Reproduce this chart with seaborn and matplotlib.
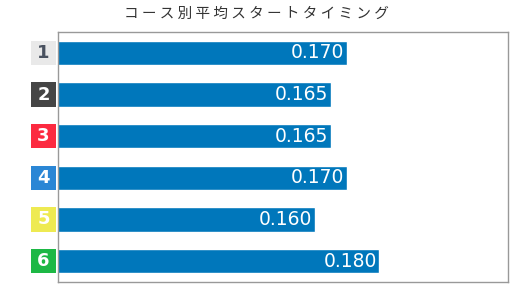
import matplotlib
matplotlib.use('Agg')

import pandas as pd
import seaborn as sns
import matplotlib.pyplot as plt
from matplotlib.patches import Rectangle
import matplotlib.transforms as mtransforms

# data
courses = ['1', '2', '3', '4', '5', '6']
start_timing = [0.170, 0.165, 0.165, 0.170, 0.160, 0.180]
lane_colors = ['#e9e9e9', '#454545', '#fc2a40', '#2a86d5', '#eeea52', '#1db845']
lane_text_colors = ['#4a5260', 'white', 'white', 'white', 'white', 'white']
title = 'コース別平均スタートタイミング'

df = pd.DataFrame({'course': courses, 'st': start_timing})

sns.set_style('white')
plt.rcParams['font.family'] = ['DejaVu Sans']

fig = plt.figure(figsize=(5.3, 2.9), dpi=100)
ax = fig.add_axes([58 / 530, 8 / 290, 450 / 530, 250 / 290])

sns.barplot(data=df, x='st', y='course', orient='h', color='#0077bb',
            saturation=1, width=0.58, ax=ax)

ax.set_xlim(0.08, 0.22)
ax.set_xticks([])
ax.set_yticks([])
ax.set_xlabel('')
ax.set_ylabel('')
for s in ax.spines.values():
    s.set_color('#999999')
    s.set_linewidth(1)

# value labels inside the bars
for i, v in enumerate(start_timing):
    ax.annotate(f'{v:.3f}', xy=(v, i), xytext=(-2, 0), textcoords='offset points',
                ha='right', va='center', color='white', fontsize=13.5)

# course number boxes on the left
trans = mtransforms.blended_transform_factory(ax.transAxes, ax.transData)
box_w = 24 / 450
for i, c in enumerate(courses):
    ax.add_patch(Rectangle((-box_w - 2.5 / 450, i - 0.29), box_w, 0.58,
                           transform=trans, color=lane_colors[i],
                           clip_on=False, lw=0))
    ax.text(-box_w / 2 - 2.5 / 450, i, c, transform=trans, ha='center',
            va='center', color=lane_text_colors[i], fontsize=13,
            fontweight='bold')

fig.text(256 / 530, 1 - 14 / 290, ' '.join(title), ha='center', va='center',
         fontsize=10.5, color='#333333', family=['Noto Sans CJK JP', 'DejaVu Sans'])

fig.savefig('out.png', dpi=100)
